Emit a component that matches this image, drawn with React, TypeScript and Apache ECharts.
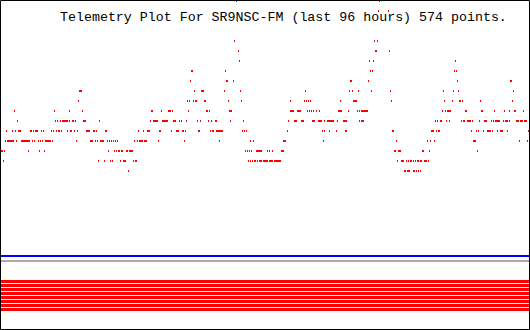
import React, { useEffect, useRef } from "react";
import * as echarts from "echarts";

// Telemetry readings: each run is [firstSlot, lastSlot] (time slots across the 96 h window)
// grouped by the quantised channel value.
const v17 = [[236, 236], [379, 379]];
const v16 = [[378, 378], [388, 388]];
const v15 = [[237, 237]];
const v13 = [[234, 234], [374, 374], [377, 377]];
const v12 = [[238, 238], [375, 376], [389, 389]];
const v11 = [[239, 239], [369, 369], [373, 373], [455, 455]];
const v10 = [[191, 192], [225, 225], [370, 370], [372, 372], [454, 454], [456, 456]];
const v9 = [[190, 190], [226, 227], [233, 233], [350, 351], [368, 368], [457, 457], [510, 511]];
const v8 = [[79, 81], [194, 194], [201, 203], [224, 224], [240, 240], [305, 305], [349, 349], [352, 352], [358, 358], [371, 371], [390, 390], [443, 443], [453, 453], [458, 458], [513, 513]];
const v7 = [[78, 78], [187, 187], [189, 189], [193, 193], [195, 196], [204, 205], [228, 228], [241, 241], [290, 290], [304, 304], [306, 306], [308, 308], [310, 310], [340, 340], [353, 356], [391, 391], [444, 444], [452, 452], [459, 460], [462, 462], [480, 480], [512, 512]];
const v6 = [[14, 14], [54, 54], [69, 69], [82, 82], [151, 152], [161, 161], [168, 170], [172, 172], [188, 188], [206, 207], [209, 209], [229, 231], [290, 293], [297, 300], [307, 307], [309, 309], [311, 311], [313, 313], [316, 316], [319, 319], [338, 341], [348, 348], [357, 357], [359, 359], [361, 367], [442, 442], [445, 445], [447, 450], [465, 466], [481, 482], [494, 494], [504, 504], [509, 509], [514, 515], [523, 523]];
const v5 = [[17, 17], [55, 55], [57, 57], [60, 60], [62, 67], [69, 69], [72, 73], [75, 75], [83, 85], [99, 99], [150, 150], [153, 157], [162, 167], [173, 175], [179, 179], [181, 181], [186, 186], [197, 197], [200, 200], [208, 208], [211, 211], [215, 216], [230, 230], [243, 243], [288, 288], [294, 296], [301, 303], [312, 314], [318, 321], [324, 324], [327, 333], [337, 337], [343, 346], [359, 359], [361, 363], [435, 435], [437, 437], [440, 441], [446, 446], [449, 449], [461, 461], [463, 464], [467, 470], [472, 472], [479, 479], [484, 486], [491, 491], [493, 493], [495, 499], [503, 503], [505, 507], [509, 509], [516, 518], [520, 522], [524, 526]];
const v4 = [[6, 6], [12, 12], [15, 15], [18, 20], [30, 31], [33, 33], [35, 37], [41, 41], [43, 43], [51, 51], [53, 53], [56, 56], [58, 59], [61, 61], [67, 67], [70, 71], [74, 74], [77, 77], [86, 89], [93, 94], [96, 96], [105, 106], [138, 138], [143, 143], [147, 149], [159, 160], [171, 171], [176, 178], [182, 183], [185, 185], [198, 199], [210, 210], [212, 213], [216, 222], [242, 242], [244, 244], [246, 246], [287, 287], [322, 322], [324, 324], [329, 329], [336, 336], [345, 346], [392, 393], [431, 433], [436, 436], [438, 439], [471, 471], [476, 476], [478, 478], [483, 483], [487, 490], [492, 492], [497, 497], [500, 502], [507, 507], [528, 528]];
const v3 = [[5, 5], [7, 12], [13, 13], [16, 16], [21, 28], [29, 29], [32, 32], [34, 34], [38, 38], [40, 40], [42, 42], [45, 50], [52, 52], [76, 76], [90, 92], [95, 95], [97, 97], [100, 103], [107, 107], [109, 109], [111, 111], [113, 113], [115, 115], [117, 117], [134, 134], [137, 137], [139, 142], [144, 146], [158, 158], [184, 184], [219, 219], [250, 250], [253, 253], [283, 285], [323, 323], [396, 396], [427, 427], [430, 430], [434, 434], [473, 475], [519, 519], [527, 527]];
const v2 = [[1, 2], [4, 4], [28, 28], [39, 39], [44, 44], [108, 108], [114, 114], [116, 116], [118, 119], [121, 122], [126, 127], [129, 132], [245, 245], [247, 247], [249, 249], [251, 251], [256, 261], [267, 267], [269, 269], [272, 272], [281, 283], [394, 395], [398, 400], [422, 423], [429, 429], [477, 477]];
const v1 = [[3, 3], [98, 98], [104, 104], [110, 110], [112, 112], [120, 120], [123, 125], [133, 133], [135, 136], [248, 248], [250, 250], [252, 252], [254, 255], [257, 257], [259, 261], [263, 267], [269, 272], [274, 280], [397, 397], [401, 403], [406, 406], [408, 408], [410, 411], [413, 413], [415, 415], [417, 418], [420, 421], [424, 426], [428, 428]];
const v0 = [[128, 128], [404, 405], [407, 409], [413, 414], [416, 416], [418, 418], [420, 420]];

const levelRuns: [number, number[][]][] = [
  [17, v17], [16, v16], [15, v15], [13, v13], [12, v12], [11, v11], [10, v10], [9, v9],
  [8, v8], [7, v7], [6, v6], [5, v5], [4, v4], [3, v3], [2, v2], [1, v1], [0, v0],
];

// Flat channels at the bottom of the plot
const slotRange = [1, 529];
const blueChannel = -8.6;
const grayChannel = -9.1;
const bitChannels = [-11.15, -11.55, -11.95, -12.35, -12.75, -13.15, -13.55, -13.95];

const titleText = "Telemetry Plot For SR9NSC-FM (last 96 hours) 574 points.";

export default function App() {
  const ref = useRef<HTMLDivElement>(null);
  useEffect(() => {
    document.body.style.margin = "0";
    if (!ref.current) return;
    const chart = echarts.init(ref.current, null, { renderer: "svg" });
    const runData: number[][] = [];
    levelRuns.forEach(([v, runs]) => runs.forEach(([s, e]) => runData.push([s, e, v])));

    const flat = (v: number) => slotRange.map((s) => [s, v]);
    const lineSeries = (v: number, color: string, width: number, name: string) => ({
      type: "line",
      name,
      data: flat(v),
      symbol: "none",
      silent: true,
      z: 3,
      lineStyle: { color, width },
      emphasis: { disabled: true },
    });

    chart.setOption({
      animation: false,
      backgroundColor: "#ffffff",
      grid: { left: 0, top: 0, width: 530, height: 330, containLabel: false },
      xAxis: { type: "value", min: 0, max: 530, show: false },
      yAxis: { type: "value", min: -16, max: 17, show: false },
      graphic: [
        {
          type: "text",
          x: 60,
          y: 17.5,
          z: 0,
          style: {
            text: titleText,
            fill: "#000000",
            font: "13.3px 'Liberation Mono'",
            verticalAlign: "middle",
            align: "left",
          },
        },
        {
          type: "rect",
          z: 100,
          silent: true,
          shape: { x: 0.5, y: 0.5, width: 529, height: 329 },
          style: { fill: "none", stroke: "#000000", lineWidth: 1 },
        },
      ],
      series: [
        {
          type: "custom",
          name: "Channel 1",
          z: 2,
          silent: true,
          data: runData,
          encode: { x: [0, 1], y: 2 },
          renderItem: (params: any, api: any) => {
            const s = api.value(0);
            const e = api.value(1);
            const v = api.value(2);
            const p0 = api.coord([s, v]);
            const p1 = api.coord([e + 1, v]);
            const h = api.size([0, 0.2])[1];
            return {
              type: "rect",
              shape: { x: p0[0], y: p0[1], width: p1[0] - p0[0], height: h },
              style: { fill: "#ff0000" },
            };
          },
        },
        lineSeries(blueChannel, "#0000ff", 2, "Channel 2"),
        lineSeries(grayChannel, "#aaaaaa", 2, "Channel 3"),
        ...bitChannels.map((v, i) => lineSeries(v, "#ff0000", 3, "Bit " + (i + 1))),
      ],
    });
    return () => chart.dispose();
  }, []);
  return <div ref={ref} style={{ width: 530, height: 330 }} />;
}
